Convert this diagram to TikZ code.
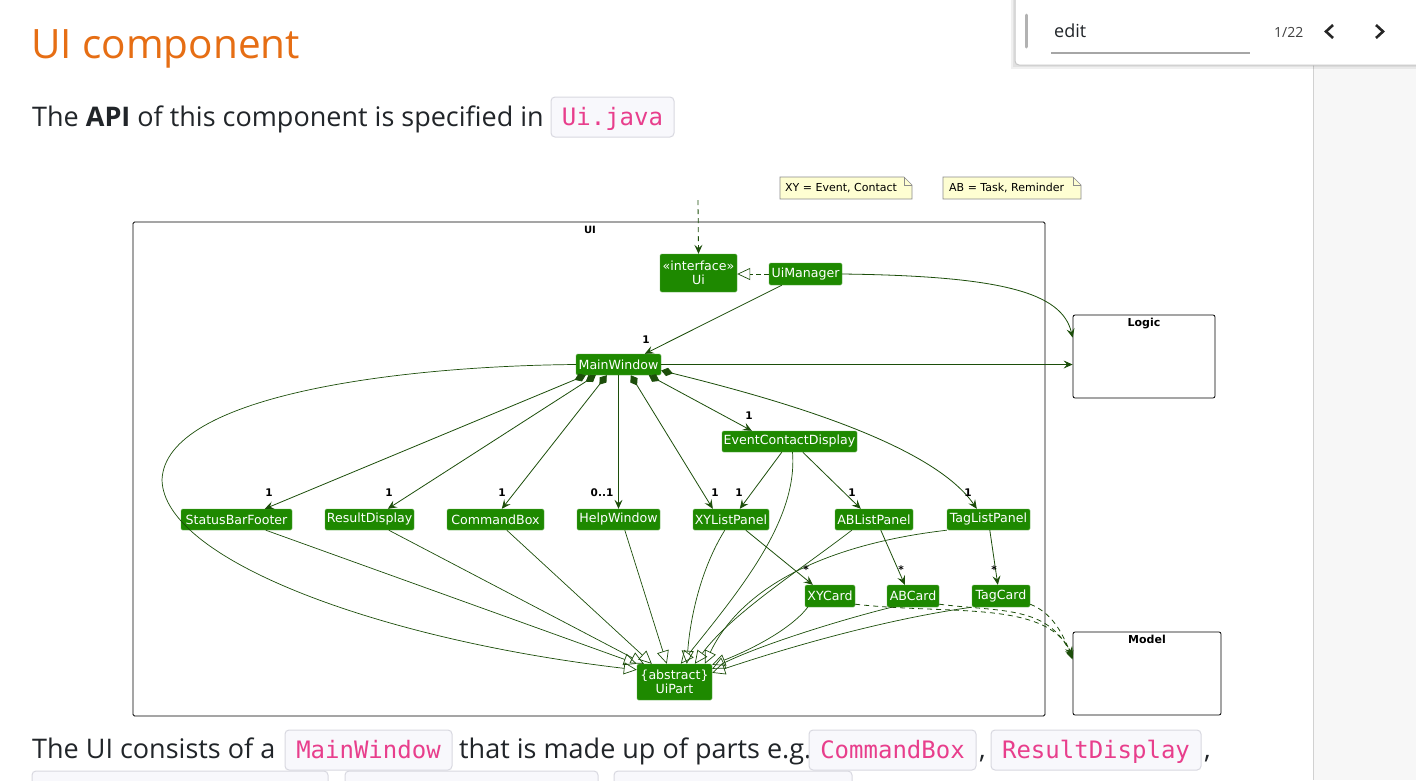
\documentclass[tikz,border=0pt]{standalone}
\usepackage{fontspec}
\setmainfont{Open Sans}
\newfontfamily\umlfont{DejaVu Sans}
\newfontfamily\codefont{DejaVu Sans Mono}
\usetikzlibrary{arrows.meta,calc}
\definecolor{umlgreen}{RGB}{30,137,0}
\definecolor{umlline}{RGB}{28,78,10}
\definecolor{headorange}{RGB}{230,110,20}
\definecolor{codepink}{RGB}{232,62,140}
\definecolor{codebg}{RGB}{248,248,252}
\definecolor{codeborder}{RGB}{216,216,224}
\definecolor{notefill}{RGB}{254,254,210}
\definecolor{textdark}{RGB}{33,37,41}
\tikzset{
  cls/.style={fill=umlgreen, draw=umlgreen!70!white, line width=0.4pt, text=white, font=\umlfont\fontsize{12.6}{14.5}\selectfont, inner sep=0pt, rounded corners=1.5pt, minimum height=21pt, align=center},
  pkg/.style={draw=black, line width=0.8pt, fill=white, rounded corners=2pt, inner sep=0pt},
  pkgtitle/.style={font=\umlfont\bfseries\fontsize{11}{13}\selectfont, inner sep=0pt, anchor=north},
  lbl/.style={font=\umlfont\bfseries\fontsize{10.5}{12}\selectfont, inner sep=0pt},
  notetext/.style={font=\umlfont\fontsize{11}{12}\selectfont, inner sep=0pt, anchor=west},
  assoc/.style={draw=umlline, line width=0.8pt, -{Stealth[length=9pt,width=8pt,inset=3.5pt]}},
  comp/.style={draw=umlline, line width=0.8pt, {Diamond[length=12pt,width=8.5pt]}-{Stealth[length=9pt,width=8pt,inset=3.5pt]}},
  gen/.style={draw=umlline, line width=0.7pt, -{Triangle[open,length=13pt,width=12pt]}},
  dep/.style={draw=umlline, line width=0.8pt, dash pattern=on 5pt off 4pt, -{Stealth[length=9pt,width=8pt,inset=3.5pt]}},
  codebox/.style={fill=codebg, draw=codeborder, line width=1pt, rounded corners=4pt},
  codetext/.style={text=codepink, font=\codefont\fontsize{24}{28}\selectfont, inner sep=0pt, anchor=base},
  bodytext/.style={text=textdark, font=\fontsize{27}{32}\selectfont, inner sep=0pt, anchor=base west},
}
\begin{document}
\begin{tikzpicture}[x=1pt,y=-1pt]
\useasboundingbox (0,0) rectangle (1416,780);
\fill[white] (0,0) rectangle (1416,780);
% right side panel
\fill[black!3] (1313,65) rectangle (1416,780);
\draw[black!18, line width=0.8pt] (1313,65) -- (1313,780);

% heading and paragraph
\node[text=headorange, font=\fontsize{40.5}{48}\selectfont, inner sep=0pt, anchor=base west] (title) at (31,58) {UI component};
\node[bodytext] (p1) at (32,126) {The \textbf{API} of this component is specified in};
\draw[codebox] (551,97) rectangle (674,137);
\node[codetext] (c1) at (612.5,125) {Ui.java};

% find bar
\fill[black, opacity=0.06] (1011,-5) rectangle (1420,69);
\fill[black, opacity=0.06] (1013,-5) rectangle (1420,67);
\draw[fill=white, draw=black!22, line width=1pt, rounded corners=4pt] (1015,-5) rectangle (1422,65);
\draw[black!30, line width=3pt, line cap=round] (1026,15) -- (1026,47);
\node[text=textdark, font=\fontsize{18}{22}\selectfont, inner sep=0pt, anchor=base west] (find) at (1054,37) {edit};
\draw[black!35, line width=2pt] (1051,53) -- (1250,53);
\node[text=black!75, font=\fontsize{14}{16}\selectfont, inner sep=0pt, anchor=base west] (cnt) at (1274,37) {1/22};
\draw[black!85, line width=2.6pt] (1333,25) -- (1326,31.5) -- (1333,38);
\draw[black!85, line width=2.6pt] (1376,25) -- (1383,31.5) -- (1376,38);

% UI package frame
\draw[black, line width=0.8pt, rounded corners=1.5pt] (133,222) rectangle (1045,716);
\node[font=\umlfont\bfseries\fontsize{10}{12}\selectfont, inner sep=0pt] (uititle) at (590,230) {UI};

% notes
\draw[fill=notefill, draw=black!45, line width=0.6pt] (780,177) -- (904,177) -- (912,185) -- (912,199) -- (780,199) -- cycle;
\draw[draw=black!45, line width=0.6pt] (904,177) -- (904,185) -- (912,185);
\node[notetext] (n1) at (785,188) {XY = Event, Contact};
\draw[fill=notefill, draw=black!45, line width=0.6pt] (943,177) -- (1073,177) -- (1081,185) -- (1081,199) -- (943,199) -- cycle;
\draw[draw=black!45, line width=0.6pt] (1073,177) -- (1073,185) -- (1081,185);
\node[notetext] (n2) at (949,188) {AB = Task, Reminder};

% outside packages
\node[pkg, minimum width=142pt, minimum height=83pt] (logic) at (1144,356.5) {};
\node[pkgtitle] (logict) at ([yshift=-3pt]logic.north) {Logic};
\node[pkg, minimum width=148pt, minimum height=83pt] (model) at (1147,673.5) {};
\node[pkgtitle] (modelt) at ([yshift=-3pt]model.north) {Model};

% classes
\node[cls, minimum width=77pt, minimum height=38pt] (ui) at (698.5,273) {«interface»\\Ui};
\node[cls, minimum width=73pt, minimum height=22pt] (uim) at (805.5,274) {UiManager};
\node[cls, minimum width=85pt] (mw) at (618.5,364.5) {MainWindow};
\node[cls, minimum width=135pt] (ecd) at (789.5,441.5) {EventContactDisplay};
\node[cls, minimum width=111pt] (sbf) at (236.5,519.5) {StatusBarFooter};
\node[cls, minimum width=89pt] (rd) at (369.5,519.5) {ResultDisplay};
\node[cls, minimum width=97pt] (cb) at (495.5,519.5) {CommandBox};
\node[cls, minimum width=83pt] (hw) at (618.5,519.5) {HelpWindow};
\node[cls, minimum width=76pt] (xylp) at (731,519.5) {XYListPanel};
\node[cls, minimum width=78pt] (ablp) at (874,519.5) {ABListPanel};
\node[cls, minimum width=83pt] (tlp) at (988.5,519.5) {TagListPanel};
\node[cls, minimum width=50pt, minimum height=22pt] (xyc) at (830,596) {XYCard};
\node[cls, minimum width=52pt, minimum height=22pt] (abc) at (913,596) {ABCard};
\node[cls, minimum width=58pt, minimum height=22pt] (tc) at (1001,596) {TagCard};
\node[cls, minimum width=75pt, minimum height=36pt] (up) at (674.5,682) {\{abstract\}\\UiPart};

% connectors
\coordinate (topin) at (698,200);
\draw[assoc, dash pattern=on 5pt off 4pt] (topin) -- (ui.north);
\draw[gen, dash pattern=on 5pt off 3pt] (uim.west) -- (uim.west -| ui.east);
\draw[assoc] (uim.east) .. controls (1000,276) and (1062,292) .. ([yshift=-23pt]logic.north west);
\draw[assoc] ([xshift=13pt]uim.south west) -- ([xshift=69pt]mw.north west);
\draw[assoc] (mw.east) -- (mw.east -| logic.west);

\draw[comp] ([xshift=10pt]mw.south west) -- ([xshift=84pt]sbf.north west);
\draw[comp] ([xshift=20pt]mw.south west) -- ([xshift=63pt]rd.north west);
\draw[comp] ([xshift=31pt]mw.south west) -- ([xshift=55pt]cb.north west);
\draw[assoc] (mw.south) -- (hw.north);
\draw[comp] ([xshift=55pt]mw.south west) -- ([xshift=20pt]xylp.north west);
\draw[comp] ([xshift=73pt]mw.south west) -- ([xshift=30pt]ecd.north west);
\draw[comp] ([yshift=-6pt]mw.east) .. controls (760,395) and (930,440) .. ([xshift=30pt]tlp.north west);

\draw[assoc] ([xshift=60pt]ecd.south west) -- ([xshift=47pt]xylp.north west);
\draw[assoc] ([xshift=81pt]ecd.south west) -- ([xshift=26pt]ablp.north west);

\draw[assoc] ([xshift=53pt]xylp.south west) -- ([xshift=8pt]xyc.north west);
\draw[assoc] ([xshift=46pt]ablp.south west) -- ([xshift=18pt]abc.north west);
\draw[assoc] ([xshift=43pt]tlp.south west) -- ([xshift=26pt]tc.north west);

% generalizations to UiPart
\draw[gen] (mw.west) .. controls (400,366) and (165,395) .. (162,480) .. controls (164,560) and (380,640) .. ([yshift=-6pt]up.north west);
\draw[gen] ([xshift=85pt]sbf.south west) -- (up.north west);
\draw[gen] ([xshift=64pt]rd.south west) -- ([xshift=7pt]up.north west);
\draw[gen] ([xshift=60pt]cb.south west) -- ([xshift=15pt]up.north west);
\draw[gen] ([xshift=48pt]hw.south west) -- ([xshift=30pt]up.north west);
\draw[gen] ([xshift=32pt]xylp.south west) .. controls (700,570) and (690,620) .. ([xshift=50pt]up.north west);
\draw[gen] ([xshift=3pt]ecd.south) .. controls (798,520) and (740,590) .. ([xshift=44pt]up.north west);
\draw[gen] ([xshift=17pt]ablp.south west) .. controls (800,570) and (730,615) .. ([xshift=58pt]up.north west);
\draw[gen] (tlp.south west) .. controls (820,545) and (740,590) .. ([xshift=68pt]up.north west);
\draw[gen] ([xshift=3pt]xyc.south west) .. controls (790,630) and (750,650) .. ([yshift=-1pt]up.north east);
\draw[gen] ([xshift=5pt]abc.south west) .. controls (840,620) and (760,645) .. ([yshift=-5pt]up.north east);
\draw[gen] (tc.south west) .. controls (880,620) and (780,650) .. ([yshift=-9pt]up.north east);

% dependencies to Model
\draw[dep] ([yshift=3pt]xyc.south east) .. controls (950,615) and (1045,600) .. ([yshift=-24pt]model.north west);
\draw[dep] ([yshift=3pt]abc.south east) .. controls (1000,612) and (1048,605) .. ([yshift=-26pt]model.north west);
\draw[dep] ([yshift=3pt]tc.south east) .. controls (1050,612) and (1062,630) .. ([yshift=-28pt]model.north west);

% multiplicities
\node[lbl] (m1) at (646,340) {1};
\node[lbl] (m2) at (749,416) {1};
\node[lbl] (m3) at (269,493) {1};
\node[lbl] (m4) at (389,493) {1};
\node[lbl] (m5) at (502,493) {1};
\node[lbl] (m6) at (602,493) {0..1};
\node[lbl] (m7) at (715,493) {1};
\node[lbl] (m8) at (739,493) {1};
\node[lbl] (m9) at (852,493) {1};
\node[lbl] (m10) at (968,493) {1};
\node[lbl] (m11) at (806,570) {*};
\node[lbl] (m12) at (901,570) {*};
\node[lbl] (m13) at (994,570) {*};

% bottom paragraph
\node[bodytext] (p2a) at (32,758) {The UI consists of a};
\draw[codebox] (285,730) rectangle (452,770);
\node[codetext] (c2) at (368.5,758) {MainWindow};
\node[bodytext] (p2b) at (459,758) {that is made up of parts e.g.};
\draw[codebox] (809,730) rectangle (976,770);
\node[codetext] (c3) at (892.5,758) {CommandBox};
\node[bodytext] (p2c) at (979,758) {,};
\draw[codebox] (991,730) rectangle (1201,770);
\node[codetext] (c4) at (1096,758) {ResultDisplay};
\node[bodytext] (p2d) at (1204,758) {,};
\draw[codebox] (32,771) rectangle (328,800);
\draw[codebox] (345,771) rectangle (598,800);
\draw[codebox] (614,771) rectangle (852,800);
\end{tikzpicture}
\end{document}
